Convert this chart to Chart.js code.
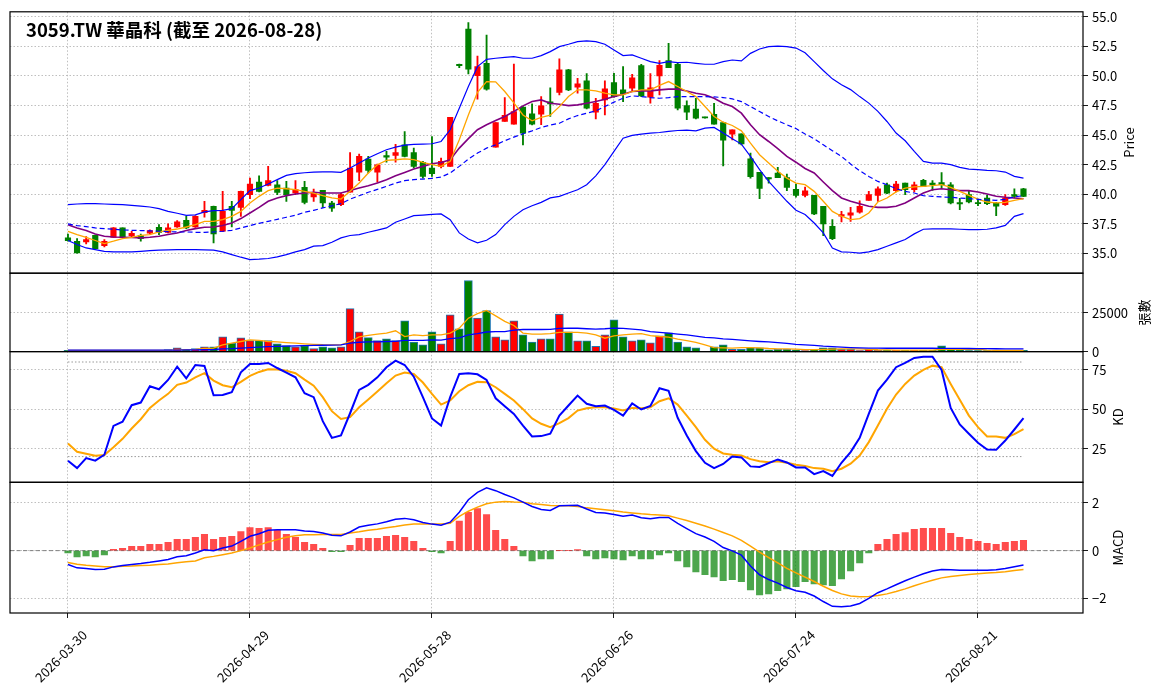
<!DOCTYPE html>
<html>
<head>
<meta charset="utf-8">
<script src="https://cdn.jsdelivr.net/npm/chart.js@4.4.1/dist/chart.umd.min.js"></script>
<style>
  html, body { margin: 0; padding: 0; background: #fff; }
  canvas { display: block; }
</style>
</head>
<body>
<canvas id="chart" width="1164" height="698"></canvas>
<script>
var title = '3059.TW 華晶科 (截至 2026-08-28)';
var tickIdx = [0, 20, 40, 60, 80, 100];
var tickLabels = ['2026-03-30', '2026-04-29', '2026-05-28', '2026-06-26', '2026-07-24', '2026-08-21'];

// daily candles, one entry per trading day
var open = [36.32,36.04,35.98,36.54,35.67,36.37,37.16,36.49,36.51,36.71, 37.22,36.79,37.24,37.81,37.24,38.45,38.98,36.88,38.98,38.90,
  39.97,41.04,40.76,40.81,40.53,40.11,40.59,39.77,40.33,39.27, 39.13,40.19,41.88,42.97,41.88,43.28,43.28,44.18,43.53,42.69,
  42.22,42.36,42.36,50.98,53.96,50.02,51.06,43.99,46.15,45.92, 47.36,46.80,46.77,47.80,48.61,50.50,49.04,49.58,46.93,47.97,
  49.43,48.82,48.97,50.86,48.20,50.00,51.30,50.97,47.49,47.20, 46.48,46.76,46.06,45.08,45.10,43.00,41.85,41.42,41.80,41.42,
  40.42,39.91,39.91,38.99,37.30,38.15,38.23,38.50,39.49,39.91, 40.80,40.30,40.95,40.39,41.17,40.95,41.00,40.81,39.30,39.97,
  39.30,39.69,39.27,39.13,39.97,40.47];
var close = [36.09,35.05,36.18,35.42,36.04,37.16,36.37,36.71,36.26,36.94, 36.79,37.16,37.67,37.16,38.14,38.65,36.65,38.56,38.65,40.25,
  40.87,40.25,41.15,40.17,39.97,40.39,39.32,40.11,39.27,38.82, 39.97,42.22,43.20,42.02,42.49,43.14,43.53,43.20,42.36,41.51,
  41.74,42.78,46.51,50.87,50.56,50.78,48.87,46.06,46.66,46.99, 45.17,45.92,47.47,47.64,50.50,48.82,49.32,47.27,47.69,48.90,
  48.25,48.50,49.83,48.30,49.00,50.90,50.70,47.27,46.93,46.42, 46.45,45.92,44.57,45.45,44.26,41.50,40.50,41.30,41.40,40.58,
  39.91,40.30,38.34,37.50,36.26,38.29,38.43,38.99,39.97,40.47, 40.10,40.87,40.39,40.81,40.67,40.81,40.81,39.27,39.18,39.35,
  39.22,39.21,38.99,39.69,39.83,39.83];
var high = [36.65,36.26,36.43,36.56,36.18,37.20,37.18,36.88,36.65,37.00, 37.44,37.50,37.78,38.14,38.20,39.41,39.00,40.25,39.41,40.28,
  41.37,41.57,42.36,41.15,41.10,41.15,41.10,40.45,40.33,39.41, 40.11,43.53,43.39,43.20,42.55,43.62,44.23,45.30,43.90,42.78,
  44.88,43.06,46.51,51.00,54.49,51.68,53.45,46.06,48.17,51.00, 47.40,47.63,48.25,49.00,51.43,50.55,49.80,50.20,48.11,49.58,
  50.22,50.78,50.14,50.97,50.20,51.30,52.75,51.10,47.90,48.11, 46.50,47.68,46.10,45.45,45.10,43.48,41.85,41.42,42.27,41.70,
  40.87,40.62,39.91,38.99,37.86,38.57,38.90,39.46,40.25,40.64, 40.95,41.09,40.95,41.04,41.26,41.15,41.84,41.00,39.66,40.25,
  39.60,39.91,39.32,39.97,40.47,40.50];
var low = [36.04,35.03,35.81,35.40,35.56,36.35,36.35,36.37,36.04,36.65, 36.60,36.74,37.20,37.10,37.20,38.06,35.90,36.85,37.24,38.14,
  39.63,40.20,40.70,39.97,39.41,39.97,39.18,39.41,38.90,38.56, 39.05,40.19,41.15,41.80,41.03,42.72,42.72,43.15,42.22,41.37,
  41.51,42.22,42.36,50.70,50.17,48.03,48.80,43.99,46.15,45.92, 44.18,45.85,45.87,46.57,48.39,48.75,48.54,47.22,46.37,46.71,
  48.20,47.83,48.68,48.25,47.70,48.40,50.70,47.13,46.30,46.37, 46.43,45.92,42.40,44.60,44.18,41.37,39.63,40.95,41.40,40.30,
  39.75,39.78,38.29,36.50,36.18,37.67,37.72,38.40,39.49,39.41, 40.05,40.20,39.97,40.20,40.67,40.33,40.56,39.18,38.71,39.27,
  39.05,39.13,38.20,39.07,39.69,39.80];

// bollinger bands and moving averages
var bbUpper = [39.13,39.18,39.21,39.21,39.18,39.15,39.13,39.07,39.01,38.93, 38.79,38.56,38.40,38.23,38.26,38.51,38.62,38.65,38.79,39.55,
  40.31,40.53,40.87,41.24,41.60,41.74,41.82,41.88,41.90,41.90, 41.85,42.22,42.64,43.06,43.42,43.76,43.98,44.15,44.21,44.24,
  44.27,44.46,45.45,47.27,49.10,50.78,51.40,51.49,51.57,51.63, 51.49,51.49,51.71,52.05,52.47,52.67,52.89,52.95,52.89,52.67,
  52.19,51.71,51.77,51.49,51.20,51.06,51.20,51.12,51.15,51.06, 50.98,50.98,51.20,51.34,51.26,51.90,52.27,52.47,52.52,52.47,
  52.35,51.95,51.20,50.45,49.75,49.25,48.84,48.25,47.70,47.00, 46.15,45.17,44.52,43.62,42.78,42.64,42.64,42.50,42.28,42.13,
  42.08,42.02,41.99,41.88,41.52,41.37];
var bbMid = [37.50,37.36,37.27,37.16,37.10,37.05,36.99,36.96,36.94,36.91, 36.88,36.85,36.82,36.82,36.79,36.79,36.82,36.88,36.96,37.16,
  37.36,37.55,37.72,37.89,38.06,38.23,38.48,38.65,38.85,39.03, 39.21,39.60,39.88,40.17,40.42,40.67,40.95,41.15,41.24,41.29,
  41.35,41.46,41.80,42.36,42.97,43.48,43.90,44.18,44.52,44.83, 45.11,45.36,45.64,45.85,46.00,46.37,46.65,46.85,47.04,47.41,
  47.78,48.11,48.31,48.25,48.17,48.11,48.17,48.25,48.25,48.25, 48.25,48.22,48.17,48.06,47.83,47.41,46.99,46.57,46.20,45.87,
  45.55,45.10,44.69,44.18,43.68,43.20,42.56,41.99,41.51,41.09, 40.81,40.47,40.25,40.11,39.89,39.83,39.78,39.75,39.69,39.63,
  39.58,39.52,39.49,39.58,39.78,39.89];
var bbLower = [36.10,35.76,35.47,35.33,35.19,35.14,35.14,35.14,35.19,35.25, 35.28,35.31,35.33,35.33,35.33,35.31,35.28,35.14,34.91,34.69,
  34.49,34.52,34.58,34.72,34.91,35.14,35.33,35.62,35.67,35.95, 36.32,36.52,36.60,36.80,36.97,37.16,37.64,37.92,38.20,38.25,
  38.31,38.34,37.86,36.74,36.23,35.90,36.12,36.60,37.44,38.14, 38.70,39.04,39.32,39.70,39.83,40.11,40.39,40.81,41.56,42.50,
  43.62,44.74,44.97,45.08,45.17,45.22,45.31,45.39,45.42,45.36, 45.59,45.65,45.17,44.69,44.24,43.20,42.08,41.09,40.25,39.41,
  38.65,38.29,37.58,36.74,35.47,35.14,35.11,35.03,35.14,35.33, 35.62,35.90,36.18,36.66,37.05,37.08,37.08,37.08,37.05,37.02,
  37.02,37.05,37.16,37.38,38.14,38.37];
var ma5 = [36.88,36.60,36.37,36.10,35.84,36.04,36.26,36.37,36.54,36.60, 36.82,36.96,37.07,37.24,37.44,37.72,37.72,37.86,38.14,38.56,
  39.27,39.83,40.31,40.53,40.47,40.39,40.25,40.11,39.89,39.69, 39.60,40.25,40.95,41.80,42.50,42.86,42.92,43.00,42.92,42.69,
  42.50,42.36,42.78,44.61,46.70,48.61,49.52,49.49,48.68,47.72, 46.70,46.20,46.50,46.68,47.40,48.25,48.82,48.82,48.73,48.54,
  48.40,48.40,48.68,48.82,48.82,49.20,49.52,49.10,48.68,48.25, 47.41,46.57,46.09,45.81,45.36,44.32,43.34,42.64,41.94,41.37,
  40.95,40.81,40.25,39.41,38.56,38.15,37.86,37.95,38.42,39.35, 39.69,40.20,40.53,40.62,40.67,40.73,40.81,40.59,40.25,39.91,
  39.60,39.35,39.27,39.32,39.49,39.63];
var ma10 = [37.44,37.16,36.94,36.65,36.46,36.40,36.37,36.35,36.32,36.37, 36.46,36.60,36.74,36.94,37.10,37.22,37.24,37.36,37.58,37.95,
  38.42,38.90,39.41,39.69,39.89,40.03,40.11,40.17,40.11,40.11, 40.11,40.33,40.53,40.73,40.95,41.23,41.57,41.85,42.13,42.36,
  42.58,42.69,42.92,43.90,44.70,45.45,45.87,46.23,46.57,46.99, 47.47,47.83,47.97,47.69,47.61,47.49,47.55,47.69,47.83,48.03,
  48.25,48.45,48.68,48.73,48.73,48.82,48.88,48.88,48.73,48.54, 48.40,48.11,47.69,47.41,46.85,45.87,45.03,44.46,43.85,43.20,
  42.71,42.18,41.80,41.04,40.31,39.69,39.41,39.21,38.99,38.90, 38.90,38.99,39.27,39.69,40.11,40.39,40.47,40.39,40.31,40.31,
  40.20,40.03,39.83,39.75,39.69,39.63];

// volume (張) and its averages
var volume = [800,900,600,700,600,800,900,500,600,700, 900,1300,2400,1300,1900,3000,3000,9500,5400,8800,
  7100,7100,7100,5000,3900,3000,3900,1900,3000,2400, 3000,27600,12700,9000,7100,8200,7100,19800,6200,4300,
  12700,5000,23700,14600,45700,21500,26300,9500,7500,19800, 10800,6200,8200,8200,24100,12700,6900,6900,3400,10800,
  20500,9500,6900,7500,5600,10100,12100,6200,3000,2400, 0,3000,4300,1500,1500,2600,2400,1100,1500,1500,
  1100,650,1500,2400,2400,1500,1500,650,1500,860, 900,900,900,900,900,900,3700,1500,900,700,
  700,700,700,700,700,800];
var volMa5 = [800,800,780,760,720,720,760,740,700,700, 720,780,1100,1300,1500,2000,2300,4300,5400,6500,
  7500,7200,6500,6200,5800,5400,5000,4700,4400,4300, 4300,6500,9500,10500,11200,11900,13400,9700,10800,10300,
  10800,10800,11900,15100,21500,24400,26500,23000,19400,16800, 11900,11200,11200,11600,12300,12300,12300,11850,10800,8600,
  10100,10800,11200,11600,10300,9700,9300,8000,7100,6000, 4300,2600,2400,2300,2500,2600,2400,2000,1800,1700,
  1600,1300,1300,1400,1600,1700,1800,1700,1500,1200, 1100,1000,900,900,900,900,1500,1500,1500,1500,
  1500,900,750,700,700,700];
var volMa20 = [900,900,900,900,900,900,900,900,900,900, 900,950,1000,1050,1100,1200,1300,1700,1900,2300,
  2600,2900,3200,3400,3500,3700,3900,4000,4100,4200, 4300,5500,6000,6200,6300,6500,6600,7200,7200,7200,
  7500,7400,8300,8800,10800,11600,12600,12800,12900,13800, 14200,14300,14200,14300,14900,15100,15000,14700,14500,14700,
  15100,14900,14500,14000,12900,12400,11900,11300,10800,10000, 9100,8800,8200,7800,7400,6900,6500,6200,5800,5300,
  4700,4300,4000,3500,3200,2900,2600,2400,2300,2200, 2150,2150,2150,2150,2150,2150,2100,2100,2050,2000,
  1950,1900,1850,1800,1750,1700];

// KD
var kLine = [17.4,12.7,19.1,17.4,21.2,39.5,42.1,52.6,54.3,64.6, 62.7,68.6,77.1,69.7,78.1,77.5,58.9,59.1,60.8,73.5,
  78.8,78.8,79.4,76.2,73.3,70.3,60.2,57.7,42.5,31.9, 33.4,47.5,62.3,65.5,70.3,76.7,80.9,78.1,70.7,57.7,
  44.2,39.7,57.7,72.4,72.9,72.2,68.6,57.0,52.0,47.1, 39.7,32.8,33.0,34.5,46.0,52.4,58.7,53.5,52.0,52.4,
  49.6,46.0,53.7,49.9,52.2,63.4,61.7,44.6,33.4,23.5, 16.1,12.7,15.3,20.1,19.5,13.8,13.4,15.9,18.2,16.3,
  13.1,13.1,8.9,10.8,7.7,16.1,22.9,31.9,47.1,61.9, 68.8,76.7,79.4,82.6,83.4,83.4,75.0,50.9,40.4,34.5,
  28.8,24.5,24.3,30.2,37.2,44.4];
var dLine = [28.3,23.1,21.8,20.5,21.0,26.0,31.3,37.8,43.7,50.9, 55.6,59.8,65.5,67.0,70.3,72.9,68.2,65.3,64.0,67.4,
  71.2,73.7,75.4,75.2,74.5,72.9,68.8,65.0,57.7,48.8, 43.9,45.0,51.3,56.2,61.3,66.5,71.4,73.3,72.4,67.0,
  59.8,53.0,55.6,61.5,65.3,67.4,67.2,64.0,59.8,55.6, 50.1,44.2,40.8,38.7,41.2,44.4,49.2,50.7,51.3,51.3,
  50.5,49.2,50.9,50.7,51.3,55.1,57.0,53.0,46.0,38.7, 30.7,25.0,22.0,21.2,20.7,18.4,17.0,16.5,17.0,16.1,
  14.8,14.0,12.7,12.3,10.8,12.3,15.5,20.7,29.2,39.7, 50.3,59.4,66.1,71.4,75.0,77.7,76.7,66.1,56.0,46.0,
  38.7,32.8,32.8,31.9,34.3,37.4];
var kdHigh = 80;
var kdLow = 20;

// MACD
var dif = [-0.58,-0.72,-0.75,-0.79,-0.78,-0.68,-0.62,-0.58,-0.54,-0.49, -0.43,-0.37,-0.26,-0.21,-0.10,0.04,0.00,0.11,0.19,0.39,
  0.60,0.71,0.85,0.87,0.87,0.87,0.82,0.80,0.74,0.64, 0.62,0.78,0.99,1.06,1.12,1.21,1.31,1.35,1.29,1.18,
  1.11,1.06,1.19,1.61,2.13,2.44,2.63,2.51,2.35,2.21, 2.03,1.85,1.72,1.68,1.88,1.89,1.90,1.74,1.60,1.58,
  1.51,1.44,1.49,1.38,1.33,1.39,1.39,1.14,0.92,0.71, 0.57,0.39,0.13,-0.01,-0.19,-0.64,-1.01,-1.21,-1.36,-1.54,
  -1.68,-1.74,-1.90,-2.13,-2.33,-2.35,-2.32,-2.21,-2.00,-1.76, -1.60,-1.43,-1.26,-1.11,-0.97,-0.85,-0.79,-0.80,-0.82,-0.82,
  -0.82,-0.82,-0.80,-0.75,-0.67,-0.60];
var dea = [-0.50,-0.57,-0.61,-0.64,-0.67,-0.67,-0.65,-0.64,-0.62,-0.61, -0.58,-0.56,-0.51,-0.47,-0.43,-0.30,-0.24,-0.17,-0.10,0.00,
  0.11,0.24,0.36,0.46,0.56,0.62,0.66,0.67,0.68,0.68, 0.68,0.74,0.79,0.85,0.90,0.96,1.01,1.07,1.11,1.12,
  1.12,1.12,1.15,1.43,1.65,1.82,1.96,2.03,2.06,2.04, 2.03,1.96,1.93,1.89,1.88,1.88,1.85,1.79,1.75,1.71,
  1.67,1.62,1.58,1.54,1.51,1.49,1.46,1.36,1.26,1.15, 1.03,0.90,0.76,0.62,0.43,0.19,-0.06,-0.29,-0.51,-0.74,
  -0.93,-1.11,-1.29,-1.49,-1.67,-1.81,-1.90,-1.93,-1.92,-1.88, -1.81,-1.71,-1.60,-1.47,-1.35,-1.24,-1.14,-1.08,-1.04,-1.00,
  -0.97,-0.94,-0.92,-0.88,-0.83,-0.79];
var hist = [-0.10,-0.26,-0.22,-0.26,-0.18,0.05,0.10,0.18,0.18,0.26, 0.26,0.35,0.47,0.47,0.56,0.68,0.47,0.56,0.60,0.80,
  0.97,0.93,0.97,0.85,0.68,0.56,0.35,0.26,0.10,-0.04, -0.04,0.22,0.51,0.51,0.51,0.60,0.64,0.56,0.39,0.10,
  -0.04,-0.10,0.39,1.24,1.60,1.76,1.51,0.85,0.47,0.18, -0.22,-0.43,-0.35,-0.35,0.00,0.00,0.04,-0.22,-0.35,-0.30,
  -0.35,-0.39,-0.22,-0.35,-0.35,-0.18,-0.10,-0.43,-0.68,-0.89, -1.01,-1.10,-1.26,-1.22,-1.30,-1.64,-1.85,-1.81,-1.68,-1.60,
  -1.51,-1.30,-1.39,-1.43,-1.47,-1.18,-0.85,-0.51,-0.10,0.26, 0.47,0.68,0.76,0.89,0.93,0.93,0.93,0.72,0.56,0.47,
  0.39,0.31,0.26,0.35,0.39,0.43];

var FONT = '"Noto Sans CJK TC", "Noto Sans", sans-serif';
Chart.defaults.font.family = FONT;
Chart.defaults.font.size = 13;
Chart.defaults.color = '#000';

function pts(arr) {
  return arr.map(function (v, i) { return {x: i, y: v}; });
}
function line(data, axis, color, width, dash) {
  return {
    type: 'line', data: pts(data), yAxisID: axis,
    borderColor: color, borderWidth: width, borderDash: dash || [],
    pointRadius: 0, fill: false, tension: 0, order: 1
  };
}
function flat(value, axis) {
  return {
    type: 'line', data: [{x: 0, y: value}, {x: open.length - 1, y: value}], yAxisID: axis,
    borderColor: '#999', borderWidth: 1, borderDash: [1.5, 2], pointRadius: 0, fill: false, order: 2
  };
}

var candleColor = open.map(function (o, i) { return close[i] >= o ? 'red' : 'green'; });
var histColor = hist.map(function (v) { return v >= 0 ? 'rgba(255,0,0,0.7)' : 'rgba(0,128,0,0.7)'; });

var gridStyle = {color: '#b8b8b8', lineWidth: 0.9, tickLength: 5, tickColor: '#000', tickWidth: 0.9};

function yAxis(weight, min, max, ticks, fmt) {
  return {
    type: 'linear', position: 'right', stack: 'panels', stackWeight: weight,
    min: min, max: max,
    afterBuildTicks: function (s) { s.ticks = ticks.map(function (v) { return {value: v}; }); },
    afterFit: function (s) { s.width = 81; },
    ticks: {padding: 4, callback: fmt},
    grid: gridStyle,
    border: {display: false, dash: [1.5, 2]}
  };
}

var panelPlugin = {
  id: 'panels',
  beforeDatasetsDraw: function (chart) {
    var ctx = chart.ctx, a = chart.chartArea;
    var y0 = chart.scales.yM.getPixelForValue(0);
    ctx.save();
    ctx.strokeStyle = 'gray';
    ctx.lineWidth = 1;
    ctx.setLineDash([4, 2.5]);
    ctx.beginPath();
    ctx.moveTo(a.left, y0);
    ctx.lineTo(a.right, y0);
    ctx.stroke();
    ctx.restore();
  },
  afterDraw: function (chart) {
    var ctx = chart.ctx, a = chart.chartArea;
    ctx.save();
    // panel frames
    ctx.strokeStyle = '#000';
    ctx.lineWidth = 1.2;
    ['yP', 'yV', 'yK', 'yM'].forEach(function (id) {
      var s = chart.scales[id];
      ctx.strokeRect(a.left, s.top, a.right - a.left, s.bottom - s.top);
    });
    // axis titles
    var names = {yP: 'Price', yV: '張數', yK: 'KD', yM: 'MACD'};
    ctx.font = '13px ' + FONT;
    ctx.fillStyle = '#000';
    Object.keys(names).forEach(function (id) {
      var s = chart.scales[id];
      var w = 0;
      s.ticks.forEach(function (t) { w = Math.max(w, ctx.measureText(t.label).width); });
      var x = a.right + 9 + w + (id === 'yV' ? 16 : 12);
      ctx.save();
      ctx.translate(x, (s.top + s.bottom) / 2);
      ctx.rotate(-Math.PI / 2);
      ctx.textAlign = 'center';
      ctx.textBaseline = 'middle';
      ctx.fillText(names[id], 0, 0);
      ctx.restore();
    });
    // date labels, rotated 45 degrees
    tickIdx.forEach(function (v, k) {
      var px = chart.scales.x.getPixelForValue(v);
      var txt = tickLabels[k];
      var bb = (ctx.measureText(txt).width + 13) * Math.SQRT1_2;
      ctx.save();
      ctx.translate(px - 7, a.bottom + 15 + bb / 2);
      ctx.rotate(-Math.PI / 4);
      ctx.textAlign = 'center';
      ctx.textBaseline = 'middle';
      ctx.fillText(txt, 0, 0);
      ctx.restore();
    });
    // title
    ctx.font = 'bold 18.5px ' + FONT;
    ctx.textAlign = 'left';
    ctx.textBaseline = 'middle';
    ctx.fillText(title, 26, 30);
    ctx.restore();
  }
};

var ctx = document.getElementById('chart').getContext('2d');
var chart = new Chart(ctx, {
  type: 'bar',
  data: {
    datasets: [
      {type: 'bar', data: low.map(function (l, i) { return {x: i, y: [l, high[i]]}; }), yAxisID: 'yP',
        backgroundColor: candleColor, barThickness: 1.2, grouped: false, minBarLength: 1, order: 20},
      {type: 'bar', data: open.map(function (o, i) { return {x: i, y: [o, close[i]]}; }), yAxisID: 'yP',
        backgroundColor: candleColor, barThickness: 5.5, grouped: false, minBarLength: 1, order: 19},
      line(bbUpper, 'yP', '#0000ff', 1.2),
      line(bbMid, 'yP', '#0000ff', 1.2, [5, 3]),
      line(bbLower, 'yP', '#0000ff', 1.2),
      line(ma5, 'yP', '#ffa500', 1.3),
      line(ma10, 'yP', '#800080', 1.6),

      {type: 'bar', data: pts(volume), yAxisID: 'yV', backgroundColor: candleColor,
        borderColor: '#1f77b4', borderWidth: 1, barThickness: 8, grouped: false, order: 18},
      line(volMa20, 'yV', '#0000ff', 1.3),
      line(volMa5, 'yV', '#ffa500', 1.3),

      flat(kdHigh, 'yK'),
      flat(kdLow, 'yK'),
      line(kLine, 'yK', '#0000ff', 2),
      line(dLine, 'yK', '#ffa500', 2),

      {type: 'bar', data: pts(hist), yAxisID: 'yM', backgroundColor: histColor,
        barThickness: 6.4, grouped: false, order: 17},
      line(dif, 'yM', '#0000ff', 1.5),
      line(dea, 'yM', '#ffa500', 1.5)
    ]
  },
  options: {
    responsive: false,
    animation: false,
    devicePixelRatio: 1,
    layout: {padding: {left: 10, top: 10, right: 0, bottom: 0}},
    plugins: {legend: {display: false}, tooltip: {enabled: false}},
    scales: {
      x: {
        type: 'linear', min: -6.37, max: 111.54, offset: false,
        afterBuildTicks: function (s) { s.ticks = tickIdx.map(function (v) { return {value: v}; }); },
        afterFit: function (s) { s.height = 85; },
        ticks: {display: false},
        grid: Object.assign({offset: false}, gridStyle),
        border: {display: false, dash: [1.5, 2]}
      },
      yP: yAxis(4, 33.34, 55.41, [35, 37.5, 40, 42.5, 45, 47.5, 50, 52.5, 55], function (v) { return v.toFixed(1); }),
      yV: yAxis(1.2, 0, 50400, [0, 25000], function (v) { return String(v); }),
      yK: yAxis(2, 3.7, 86.6, [25, 50, 75], function (v) { return String(v); }),
      yM: yAxis(2, -2.61, 2.86, [-2, 0, 2], function (v) { return v < 0 ? '\u2212' + Math.abs(v) : String(v); })
    }
  },
  plugins: [panelPlugin]
});
</script>
</body>
</html>
